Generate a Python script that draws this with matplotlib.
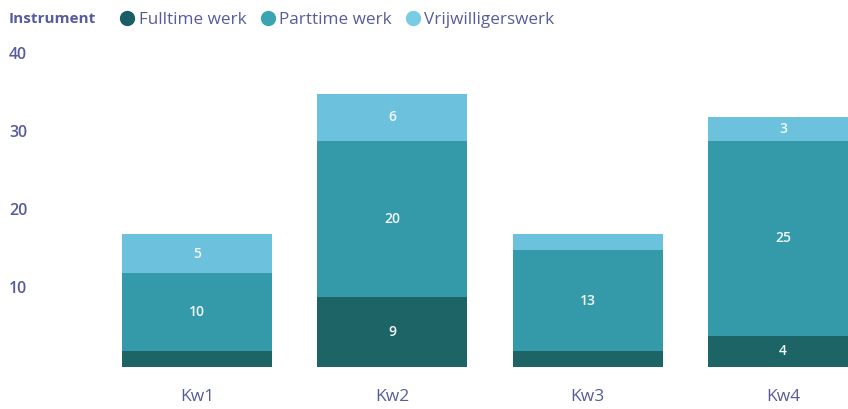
import matplotlib
matplotlib.use("Agg")
import matplotlib.pyplot as plt
from matplotlib.lines import Line2D
import numpy as np

plt.rcParams["font.family"] = ["Open Sans", "DejaVu Sans"]

# ── data ──────────────────────────────────────────────────────────────────────
categories  = ["Kw1", "Kw2", "Kw3", "Kw4"]
fulltime    = [2, 9, 2, 4]
parttime    = [10, 20, 13, 25]
vrijwillig  = [5, 6, 2, 3]
series_names = ["Fulltime werk", "Parttime werk", "Vrijwilligerswerk"]
y_ticks     = [10, 20, 30, 40]

BAR_COLORS = ["#1d6467", "#3499a8", "#6cc2dc"]
LEG_COLORS = ["#1a5d66", "#3aa5b0", "#79cde3"]
TXT_COLOR  = "#575c9c"
MIN_LABEL  = 3   # small segments get no label

# ── figure ────────────────────────────────────────────────────────────────────
fig = plt.figure(figsize=(8.48, 4.09), dpi=100)
ax = fig.add_axes([0, 1 - 367 / 409, 1, (367 - 55) / 409])

x = np.arange(len(categories))
bottom = np.zeros(len(categories))
for vals, col in zip([fulltime, parttime, vrijwillig], BAR_COLORS):
    vals = np.array(vals, dtype=float)
    ax.bar(x, vals, bottom=bottom, width=0.767, color=col, linewidth=0)
    for xi, b, v in zip(x, bottom, vals):
        if v >= MIN_LABEL:
            ax.text(xi, b + v / 2, f"{int(v)}", ha="center", va="center",
                    color="#f2f8f9", fontsize=10, fontweight="semibold")
    bottom += vals

ax.set_xlim(-197 / 195.5, 3 + 65 / 195.5)
ax.set_ylim(0, 40)
ax.axis("off")

# y tick labels
for t in y_ticks:
    ax.text(9 / 848, t, str(t), transform=ax.get_yaxis_transform(),
            ha="left", va="center", color=TXT_COLOR, fontsize=11.5,
            fontweight="semibold")

# category labels
for xi, c in zip(x, categories):
    ax.text(xi, -3.9, c, ha="center", va="center", color=TXT_COLOR,
            fontsize=12.5)

# legend
fig.text(9 / 848, 1 - 19 / 409, "Instrument", ha="left", va="center",
         color=TXT_COLOR, fontsize=11, fontweight="bold")
handles = [Line2D([], [], marker="o", linestyle="", markersize=10,
                  markerfacecolor=c, markeredgecolor=c) for c in LEG_COLORS]
leg = fig.legend(handles, series_names, loc="center left",
                 bbox_to_anchor=(101 / 848, 1 - 20 / 409), ncol=3, frameon=False,
                 handletextpad=0.0, columnspacing=0.6, handlelength=1.3,
                 fontsize=12.3)
for t in leg.get_texts():
    t.set_color(TXT_COLOR)

fig.savefig("out.png", dpi=100)
